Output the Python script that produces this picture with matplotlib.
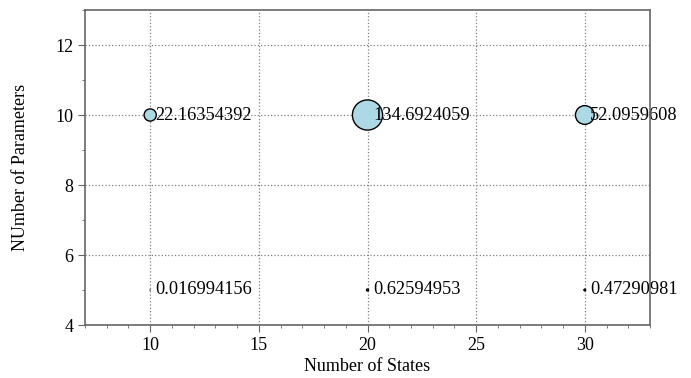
import matplotlib
matplotlib.use("Agg")
import matplotlib.pyplot as plt
from matplotlib.ticker import MultipleLocator

plt.rcParams['font.family'] = ['Liberation Serif', 'DejaVu Serif']

states = [10, 20, 30, 10, 20, 30]
params = [10, 10, 10, 5, 5, 5]
values = [22.16354392, 134.6924059, 52.0959608, 0.016994156, 0.62594953, 0.47290981]
labels = ["22.16354392", "134.6924059", "52.0959608", "0.016994156", "0.62594953", "0.47290981"]

fig = plt.figure(figsize=(6.91, 3.78), dpi=100)
ax = fig.add_axes([85/691, 1 - 325/378, (650 - 85)/691, (325 - 10)/378])

ax.scatter(states, params, s=[v * 3.5 for v in values], c='#add8e6',
           edgecolors='black', linewidths=1.0, zorder=2, clip_on=False)
for x, y, t in zip(states, params, labels):
    ax.annotate(t, (x, y), xytext=(4.0, 0), textcoords='offset points',
                ha='left', va='center', fontsize=13.2, zorder=2.2,
                annotation_clip=False)

ax.set_xlim(7, 33)
ax.set_ylim(4, 13)
ax.xaxis.set_major_locator(MultipleLocator(5))
ax.xaxis.set_minor_locator(MultipleLocator(1))
ax.yaxis.set_major_locator(MultipleLocator(2))
ax.yaxis.set_minor_locator(MultipleLocator(1))
ax.grid(True, which='major', linestyle=':', color='#808080', linewidth=0.9)
ax.set_axisbelow(True)
for s in ax.spines.values():
    s.set_color('#666666')
    s.set_linewidth(1.2)
    s.set_zorder(2.5)
ax.tick_params(which='major', direction='out', length=5, color='#666666', labelsize=13)
ax.tick_params(which='minor', direction='out', length=2.5, color='#666666')
ax.set_xlabel("Number of States", fontsize=13, labelpad=3)
ax.set_ylabel("NUmber of Parameters", fontsize=13)
ax.yaxis.set_label_coords(-(85 - 29) / 565, 0.5)

fig.savefig("out.png", dpi=100)
